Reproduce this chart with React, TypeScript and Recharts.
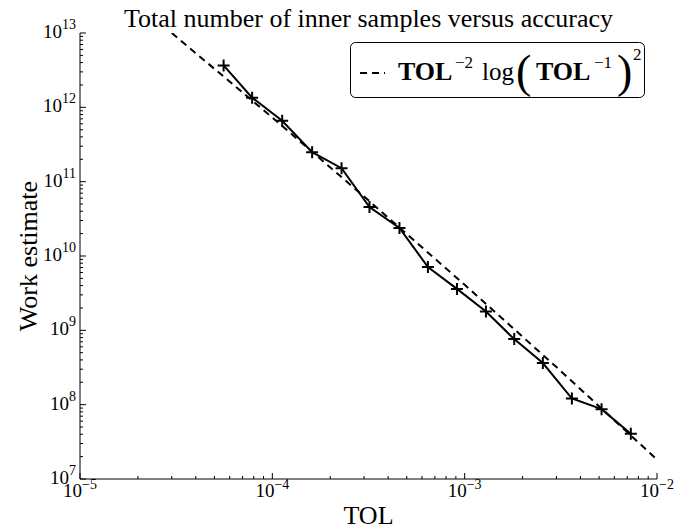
import React from 'react';
import { LineChart, Line, XAxis, YAxis, Legend, Label } from 'recharts';

const TITLE = 'Total number of inner samples versus accuracy';
const X_LABEL = 'TOL';
const Y_LABEL = 'Work estimate';

// measured series (TOL, work estimate)
const tolValues = [5.58e-5, 7.85e-5, 1.125e-4, 1.61e-4, 2.29e-4, 3.2e-4, 4.58e-4, 6.44e-4, 9.12e-4, 1.29e-3, 1.81e-3, 2.55e-3, 3.61e-3, 5.15e-3, 7.31e-3];
const workValues = [3.66e12, 1.35e12, 6.59e11, 2.49e11, 1.52e11, 4.55e10, 2.38e10, 7.12e9, 3.61e9, 1.79e9, 7.62e8, 3.63e8, 1.21e8, 8.7e7, 4.05e7];

// reference (dashed) curve
const refTol = [3.0e-5, 1e-4, 3e-4, 1e-3, 3e-3, 1e-2];
const refWork = [1.0e13, 7.3e11, 6.3e10, 4.1e9, 3.2e8, 1.83e7];

const xMajorExponents = [-5, -4, -3, -2];
const yMajorExponents = [7, 8, 9, 10, 11, 12, 13];
const minorMultipliers = [2, 3, 4, 5, 6, 7, 8, 9];

const X_DOMAIN: [number, number] = [1e-5, 1e-2];
const Y_DOMAIN: [number, number] = [1e7, 1e13];

const buildTicks = (exps: number[]) => {
  const out: number[] = [];
  exps.forEach((e, i) => {
    out.push(Math.pow(10, e));
    if (i < exps.length - 1) minorMultipliers.forEach((m) => out.push(m * Math.pow(10, e)));
  });
  return out;
};
const xTicks = buildTicks(xMajorExponents);
const yTicks = buildTicks(yMajorExponents);

const SERIF = '"Liberation Serif", "Times New Roman", serif';
const SERIF_STYLE = { fontFamily: SERIF };
const MAJOR = 6;
const MINOR = 3;
const AXIS_LINE = { stroke: '#000', strokeWidth: 1 };

const tickInfo = (v: number) => {
  const l = Math.log10(v);
  const r = Math.round(l);
  return { major: Math.abs(l - r) < 1e-6, exp: r };
};
const expText = (e: number) => (e < 0 ? '\u2212' + Math.abs(e) : String(e));

const BottomTick = (props: any) => {
  const { x, y, payload } = props;
  const { major, exp } = tickInfo(payload.value);
  return (
    <g>
      <line x1={x} x2={x} y1={y} y2={y - (major ? MAJOR : MINOR)} stroke="#000" strokeWidth={1} />
      {major && (
        <text x={x} y={y + 18} textAnchor="middle" style={SERIF_STYLE} fontSize={19} fill="#000">
          10<tspan dy={-8} fontSize={14}>{expText(exp)}</tspan>
        </text>
      )}
    </g>
  );
};

const TopTick = (props: any) => {
  const { x, y, payload } = props;
  const { major } = tickInfo(payload.value);
  return <line x1={x} x2={x} y1={y} y2={y + (major ? MAJOR : MINOR)} stroke="#000" strokeWidth={1} />;
};

const LeftTick = (props: any) => {
  const { x, y, payload } = props;
  const { major, exp } = tickInfo(payload.value);
  return (
    <g>
      <line x1={x} x2={x + (major ? MAJOR : MINOR)} y1={y} y2={y} stroke="#000" strokeWidth={1} />
      {major && (
        <text x={x - 4} y={y + 5} textAnchor="end" style={SERIF_STYLE} fontSize={19} fill="#000">
          10<tspan dy={-9} fontSize={14}>{expText(exp)}</tspan>
        </text>
      )}
    </g>
  );
};

const RightTick = (props: any) => {
  const { x, y, payload } = props;
  const { major } = tickInfo(payload.value);
  return <line x1={x} x2={x - (major ? MAJOR : MINOR)} y1={y} y2={y} stroke="#000" strokeWidth={1} />;
};

const PlusDot = (props: any) => {
  const { cx, cy, index } = props;
  if (cx == null || cy == null) return <g key={`p-${index}`} />;
  return (
    <path
      key={`p-${index}`}
      d={`M${cx - 6},${cy}h12M${cx},${cy - 6}v12`}
      stroke="#000"
      strokeWidth={2}
      fill="none"
    />
  );
};

const XLabelContent = (props: any) => {
  const vb = props.viewBox || { x: 80, y: 479, width: 577, height: 40 };
  return (
    <text x={vb.x + vb.width / 2} y={vb.y + 45} textAnchor="middle" style={SERIF_STYLE} fontSize={26} fill="#000">
      {X_LABEL}
    </text>
  );
};

// y-axis label plus the chart title (title centred over the plot area)
const YLabelContent = (props: any) => {
  const vb = props.viewBox || { x: 10, y: 33, width: 70, height: 446 };
  const cx = 37;
  const cy = vb.y + vb.height / 2;
  const plotLeft = vb.x + vb.width;
  const plotCenter = plotLeft + (676 - 19 - plotLeft) / 2;
  return (
    <g>
      <text x={cx} y={cy} transform={`rotate(-90, ${cx}, ${cy})`} textAnchor="middle" style={SERIF_STYLE} fontSize={26} fill="#000">
        {Y_LABEL}
      </text>
      <text x={plotCenter} y={vb.y - 6} textAnchor="middle" style={SERIF_STYLE} fontSize={26} fill="#000">
        {TITLE}
      </text>
    </g>
  );
};

const LegendBox = () => (
  <svg width={295} height={56} style={{ display: 'block', overflow: 'visible' }}>
    <rect x={0.5} y={0.5} width={294} height={55} rx={5} ry={5} fill="#fff" stroke="#000" strokeWidth={1} />
    <line x1={10} x2={35} y1={31} y2={31} stroke="#000" strokeWidth={2} strokeDasharray="7 5" />
    <text style={SERIF_STYLE} fill="#000">
      <tspan x={48} y={38} fontSize={26} fontWeight="bold">TOL</tspan>
      <tspan x={105} y={26} fontSize={17}>{'\u22122'}</tspan>
      <tspan x={132} y={38} fontSize={25}>log</tspan>
      <tspan x={166} y={45} fontSize={46}>(</tspan>
      <tspan x={186} y={38} fontSize={26} fontWeight="bold">TOL</tspan>
      <tspan x={244} y={26} fontSize={17}>{'\u22121'}</tspan>
      <tspan x={267} y={45} fontSize={46}>)</tspan>
      <tspan x={283} y={18} fontSize={17}>2</tspan>
    </text>
  </svg>
);

export default function App() {
  const mainData = tolValues.map((t, i) => ({ x: t, y: workValues[i] }));
  const refData = refTol.map((t, i) => ({ x: t, y: refWork[i] }));
  return (
    <div style={{ position: 'absolute', left: 0, top: 0, width: 676, height: 530, background: '#fff' }}>
      <LineChart width={676} height={530} margin={{ top: 33, right: 19, bottom: 11, left: 10 }}>
        <XAxis
          xAxisId="b"
          dataKey="x"
          type="number"
          scale="log"
          domain={X_DOMAIN}
          allowDataOverflow
          ticks={xTicks}
          interval={0}
          tickSize={0}
          tickMargin={0}
          tickLine={false}
          axisLine={AXIS_LINE}
          tick={BottomTick}
          height={40}
          orientation="bottom"
        >
          <Label content={XLabelContent} />
        </XAxis>
        <XAxis
          xAxisId="t"
          dataKey="x"
          type="number"
          scale="log"
          domain={X_DOMAIN}
          allowDataOverflow
          ticks={xTicks}
          interval={0}
          tickSize={0}
          tickMargin={0}
          tickLine={false}
          axisLine={AXIS_LINE}
          tick={TopTick}
          height={0}
          orientation="top"
        />
        <YAxis
          yAxisId="l"
          dataKey="y"
          type="number"
          scale="log"
          domain={Y_DOMAIN}
          allowDataOverflow
          ticks={yTicks}
          interval={0}
          tickSize={0}
          tickMargin={0}
          tickLine={false}
          axisLine={AXIS_LINE}
          tick={LeftTick}
          width={70}
          orientation="left"
        >
          <Label content={YLabelContent} />
        </YAxis>
        <YAxis
          yAxisId="r"
          dataKey="y"
          type="number"
          scale="log"
          domain={Y_DOMAIN}
          allowDataOverflow
          ticks={yTicks}
          interval={0}
          tickSize={0}
          tickMargin={0}
          tickLine={false}
          axisLine={AXIS_LINE}
          tick={RightTick}
          width={0}
          orientation="right"
        />
        <Legend
          layout="horizontal"
          verticalAlign="middle"
          align="center"
          content={LegendBox}
          wrapperStyle={{ position: 'absolute', left: 350, top: 42, width: 295, height: 56 }}
        />
        <Line
          xAxisId="b"
          yAxisId="l"
          data={refData}
          dataKey="y"
          stroke="#000"
          strokeWidth={2}
          strokeDasharray="7 5"
          dot={false}
          activeDot={false}
          isAnimationActive={false}
        />
        <Line
          xAxisId="b"
          yAxisId="l"
          data={mainData}
          dataKey="y"
          stroke="#000"
          strokeWidth={2}
          dot={PlusDot}
          activeDot={false}
          isAnimationActive={false}
        />
      </LineChart>
    </div>
  );
}
